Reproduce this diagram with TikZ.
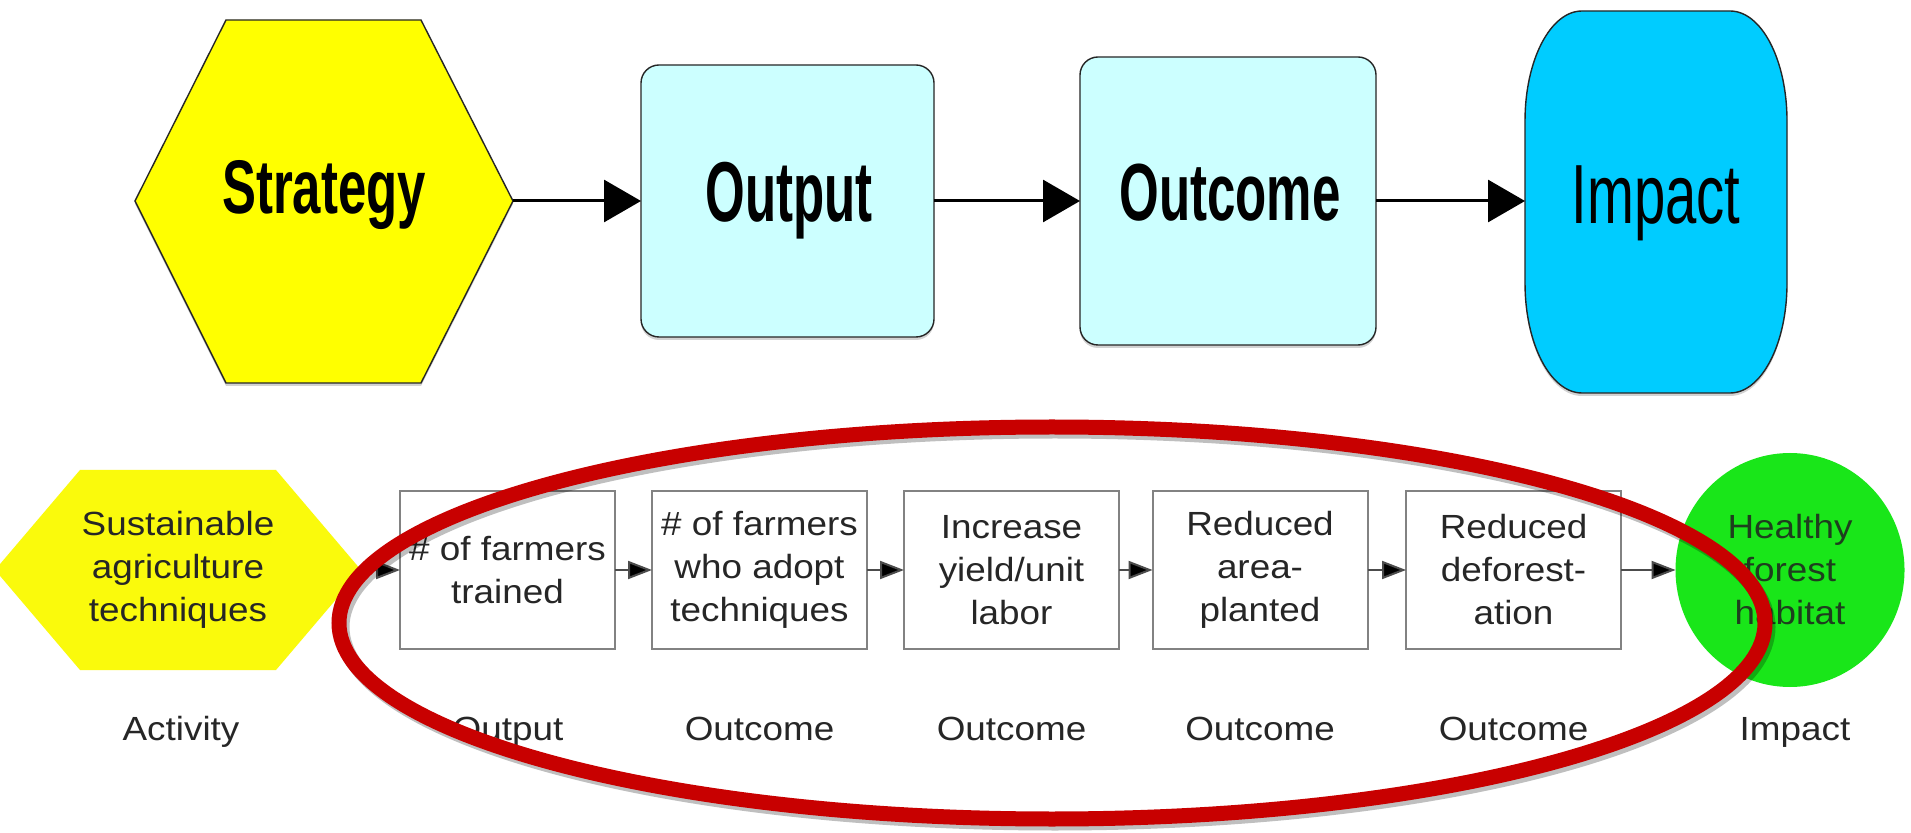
\documentclass[tikz,border=0pt]{standalone}
\usepackage{fontspec}
\usepackage{graphicx}
\setmainfont{Liberation Sans}
\newfontfamily\bodyfont[FakeStretch=1.1]{Liberation Sans}
\newcommand\stepfont{\bodyfont\fontsize{16.75}{21.5}\selectfont}
\usetikzlibrary{arrows.meta,shadows,shapes.geometric}
\definecolor{hexyellow}{RGB}{255,255,0}
\definecolor{softyellow}{RGB}{250,250,12}
\definecolor{paleCyan}{RGB}{204,255,255}
\definecolor{impactblue}{RGB}{0,204,255}
\definecolor{leafgreen}{RGB}{25,230,25}
\definecolor{darkleaf}{RGB}{30,62,30}
\definecolor{ringred}{RGB}{200,0,0}
\definecolor{inkgray}{RGB}{38,38,38}
\definecolor{boxgray}{RGB}{130,130,130}
\begin{document}
\begin{tikzpicture}[x=0.5pt,y=-0.5pt,
  topshape/.style={draw=black!85, line width=0.7pt,
    drop shadow={shadow xshift=0pt, shadow yshift=-1.5pt, opacity=0.35}},
  topbox/.style={topshape, fill=paleCyan, rounded corners=9pt, inner sep=0pt, outer sep=0pt},
  holder/.style={inner sep=0pt, outer sep=0pt, draw=none},
  bigword/.style={anchor=base, inner sep=0pt, text=black},
  toparrow/.style={line width=1.5pt, -{Triangle[length=18.5pt,width=21pt]}},
  stepbox/.style={draw=boxgray, line width=1pt, fill=white, minimum width=107.5pt,
    minimum height=79pt, inner sep=0pt, outer sep=0pt, align=center, text=inkgray, font=\stepfont},
  smallarrow/.style={draw=black!70, line width=1pt, -{Triangle[length=12pt,width=9pt,fill=black]}},
  rowlabel/.style={anchor=base, inner sep=0pt, text=inkgray, font=\stepfont},
]
\fill[white] (0,0) rectangle (1911,833);
\useasboundingbox (0,0) rectangle (1911,833);

% ---------- top row ----------
\path[topshape, fill=hexyellow] (226,20) -- (421,20) -- (513,201) -- (421,383) -- (226,383) -- (135,201) -- cycle;
\node[holder, minimum width=189pt, minimum height=181.5pt] (strategy) at (324,201) {};
\node[bigword] (strategytxt) at (324,214) {\fontsize{38}{40}\selectfont\bfseries\scalebox{0.67}[1]{Strategy}};

\node[topbox, minimum width=146.5pt, minimum height=136pt] (output) at (787.5,201) {};
\node[bigword] (outputtxt) at (789,222) {\fontsize{42.5}{44}\selectfont\bfseries\scalebox{0.60}[1]{Output}};

\node[topbox, minimum width=148pt, minimum height=144pt] (outcome) at (1228,201) {};
\node[bigword] (outcometxt) at (1230,221) {\fontsize{40.5}{42}\selectfont\bfseries\scalebox{0.63}[1]{Outcome}};

\path[topshape, fill=impactblue] (1582,11) -- (1730,11)
  .. controls (1761.5,11) and (1787,60) .. (1787,121) -- (1787,283)
  .. controls (1787,344) and (1761.5,393) .. (1730,393) -- (1582,393)
  .. controls (1550.5,393) and (1525,344) .. (1525,283) -- (1525,121)
  .. controls (1525,60) and (1550.5,11) .. (1582,11) -- cycle;
\node[holder, minimum width=131pt, minimum height=191pt] (impact) at (1656,201) {};
\node[bigword] (impacttxt) at (1656,224) {\fontsize{42}{44}\selectfont\scalebox{0.67}[1]{Impact}};

\draw[toparrow] (strategy.east) -- (output.west);
\draw[toparrow] (output.east) -- (outcome.west);
\draw[toparrow] (outcome.east) -- (impact.west);

% ---------- bottom row ----------
\path[fill=softyellow] (80,470) -- (276,470) -- (361,570) -- (276,670) -- (80,670) -- (-5,570) -- cycle;
\node[holder, minimum width=183pt, minimum height=100pt, align=center, text=inkgray, font=\stepfont]
  (activity) at (178,570) {Sustainable\\agriculture\\techniques};

\node[stepbox] (b1) at (507.5,570) {\# of farmers\\trained};
\node[stepbox] (b2) at (759.5,570) {\# of farmers\\who adopt\\techniques};
\node[stepbox] (b3) at (1011.5,570) {Increase\\yield/unit\\labor};
\node[stepbox] (b4) at (1260,570) {Reduced\\area-\\planted};
\node[stepbox] (b5) at (1513.5,570) {Reduced\\deforest-\\ation};
\node[ellipse, fill=leafgreen, minimum width=114.5pt, minimum height=117pt, inner sep=0pt,
  outer sep=0pt, align=center, text=darkleaf, font=\stepfont] (habitat) at (1790,570) {Healthy\\forest\\habitat};

\draw[smallarrow] (activity.east) -- (b1.west);
\draw[smallarrow] (b1.east) -- (b2.west);
\draw[smallarrow] (b2.east) -- (b3.west);
\draw[smallarrow] (b3.east) -- (b4.west);
\draw[smallarrow] (b4.east) -- (b5.west);
\draw[smallarrow] (b5.east) -- (habitat.west);

\node[rowlabel] (lab1) at (181,740) {Activity};
\node[rowlabel] (lab2) at (508,740) {Output};
\node[rowlabel] (lab3) at (759.5,740) {Outcome};
\node[rowlabel] (lab4) at (1011.5,740) {Outcome};
\node[rowlabel] (lab5) at (1260,740) {Outcome};
\node[rowlabel] (lab6) at (1513.5,740) {Outcome};
\node[rowlabel] (lab7) at (1795,740) {Impact};

% ---------- red ring ----------
\draw[black, opacity=0.25, line width=7.5pt] (1055,627) ellipse [x radius=356.5pt, y radius=98pt];
\draw[ringred, line width=7.5pt] (1052,623) ellipse [x radius=356.5pt, y radius=98pt];
\end{tikzpicture}
\end{document}
